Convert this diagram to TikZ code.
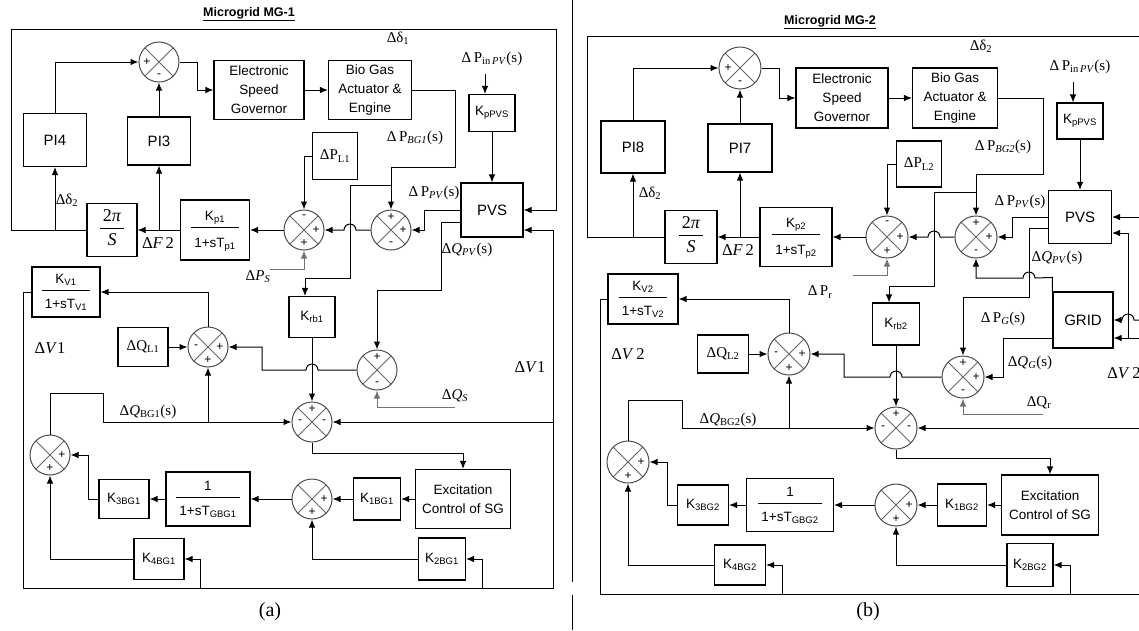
\documentclass[tikz,border=0pt]{standalone}
\usepackage{fontspec}
\setmainfont{Liberation Serif}
\setsansfont{Liberation Sans}
\usetikzlibrary{arrows.meta}
\setlength{\arrayrulewidth}{0.9pt}
\newcommand{\frc}[3][20pt]{\begin{tabular}{@{\hspace{3pt}}c@{\hspace{3pt}}}#2\\[1pt]\hline\rule{0pt}{#1}#3\end{tabular}}
\newcommand{\sg}[4]{\node[sgn] (#1#2) at ([shift={#3}]#1.center) {#4};}

\begin{document}
\begin{tikzpicture}[x=1pt,y=-1pt,line width=1pt,
  blk/.style={draw,line width=1.1pt,inner sep=0pt,align=center,font=\sffamily\fontsize{13.5}{19}\selectfont},
  bx/.style 2 args={blk,minimum width=#1,minimum height=#2},
  bigt/.style={font=\sffamily\fontsize{15}{17}\selectfont},
  sert/.style={font=\fontsize{15}{17}\selectfont},
  frt/.style={font=\fontsize{18}{18}\selectfont},
  sumc/.style={circle,draw=black!70,line width=1pt,minimum size=40pt,inner sep=0pt,
    path picture={\draw[black!60,line width=.9pt] (path picture bounding box.north west)--(path picture bounding box.south east)
      (path picture bounding box.north east)--(path picture bounding box.south west);}},
  sumd/.style={sumc,minimum size=42pt},
  sgn/.style={inner sep=0pt,font=\sffamily\fontsize{12}{12}\selectfont},
  arr/.style={-{Latex[length=8pt,width=6.5pt]}},
  gar/.style={arr,draw=black!55},
  lbl/.style={inner sep=0pt,font=\fontsize{15}{15}\selectfont},
  big/.style={inner sep=0pt,font=\fontsize{16.5}{16}\selectfont},
  ttl/.style={inner sep=0pt,font=\sffamily\bfseries\fontsize{12.5}{14}\selectfont}]
\useasboundingbox (0,0) rectangle (1139,630);

% MG-1
\node[ttl] (ttlA) at (249,14) {\underline{Microgrid MG-1}};
\node[sumc] (sa1) at (159,62) {};
\node[bx={63}{53},bigt] (pi4) at (55,140) {PI4};
\node[bx={63}{48},bigt] (pi3) at (159,141) {PI3};
\node[bx={90}{59}] (esgA) at (259,90) {Electronic\\Speed\\Governor};
\node[bx={83}{59}] (bgA) at (370,90) {Bio Gas\\Actuator \&\\Engine};
\node[bx={46}{37}] (kpvA) at (492,113) {K\textsubscript{pPVS}};
\node[bx={62}{54},bigt] (pvsA) at (492,210) {PVS};
\node[bx={45}{47},sert] (plA) at (335,156) {ΔP\textsubscript{L1}};
\node[sumc] (sa2) at (304,230) {};
\node[sumc] (sa3) at (391,230) {};
\node[bx={69}{60}] (kpA) at (215,230) {\frc{K\textsubscript{p1}}{1+sT\textsubscript{p1}}};
\node[bx={50}{53},frt] (tpA) at (112,230) {\frc[16pt]{2\textit{π}}{\textit{S}}};
\node[bx={46}{41}] (krbA) at (312,317) {K\textsubscript{rb1}};
\node[sumc] (sa5) at (377,370) {};
\node[sumc] (sa4) at (312,422) {};
\node[sumc] (sa6) at (208,347) {};
\node[bx={50}{39},sert] (qlA) at (143,347) {ΔQ\textsubscript{L1}};
\node[bx={68}{50}] (kvA) at (66,292) {\frc[18pt]{K\textsubscript{V1}}{1+sT\textsubscript{V1}}};
\node[sumc] (sa7) at (50,455) {};
\node[bx={50}{39}] (k3A) at (124,499) {K\textsubscript{3BG1}};
\node[bx={84}{54}] (gA) at (208,499) {\frc[17pt]{1}{1+sT\textsubscript{GBG1}}};
\node[sumc] (sa8) at (312,499) {};
\node[bx={47}{42}] (k1A) at (377,499) {K\textsubscript{1BG1}};
\node[bx={95}{59}] (excA) at (463,499) {Excitation\\Control of SG};
\node[bx={47}{42}] (k2A) at (442,559) {K\textsubscript{2BG1}};
\node[bx={50}{41}] (k4A) at (159,559) {K\textsubscript{4BG1}};

\sg{sa1}{w}{(-12,0)}{+} \sg{sa1}{s}{(0,14)}{-}
\sg{sa2}{n}{(0,-13)}{-} \sg{sa2}{e}{(12,0)}{+} \sg{sa2}{s}{(0,13)}{+}
\sg{sa3}{n}{(0,-13)}{+} \sg{sa3}{e}{(12,0)}{+} \sg{sa3}{s}{(0,14)}{-}
\sg{sa5}{n}{(0,-13)}{+} \sg{sa5}{s}{(0,14)}{-}
\sg{sa4}{n}{(0,-13)}{+} \sg{sa4}{w}{(-12,0)}{-} \sg{sa4}{e}{(12,0)}{-}
\sg{sa6}{w}{(-12,0)}{-} \sg{sa6}{e}{(12,0)}{+} \sg{sa6}{s}{(0,13)}{+}
\sg{sa7}{e}{(12,0)}{+} \sg{sa7}{s}{(0,13)}{+}
\sg{sa8}{e}{(12,0)}{+} \sg{sa8}{s}{(0,13)}{+}

\node[lbl] (dd1A) at (398,38) {Δδ\textsubscript{1}};
\node[lbl] (pinA) at (492,59) {Δ\,P\textsubscript{in\,\textit{PV}}(s)};
\node[lbl] (pbgA) at (415,138) {Δ\,P\textsubscript{\textit{BG1}}(s)};
\node[lbl] (ppvA) at (434,193) {Δ\,P\textsubscript{\textit{PV}}(s)};
\node[lbl] (dd2A) at (67,200) {Δδ\textsubscript{2}};
\node[big] (dfA) at (158,243) {Δ\textit{F}\,2};
\node[lbl] (psA) at (258,277) {Δ\textit{P}\textsubscript{\textit{S}}};
\node[lbl] (qpvA) at (467,250) {Δ\textit{Q}\textsubscript{\textit{PV}}(s)};
\node[lbl] (qsA) at (455,396) {Δ\textit{Q}\textsubscript{\textit{S}}};
\node[big] (dvA1) at (50,348) {Δ\textit{V}1};
\node[big] (dvA2) at (530,367) {Δ\textit{V}1};
\node[lbl] (qbgA) at (148,412) {Δ\textit{Q}\textsubscript{BG1}(s)};
\node[font=\fontsize{20}{20}\selectfont] (capA) at (270,612) {(a)};

\coordinate (oA1) at (11,29);
\coordinate (oA2) at (556,29);
\draw[arr] (tpA) -| (oA1) -- (oA2) |- (pvsA);
\draw[arr] (pi4 |- tpA) -- (pi4);
\draw[arr] (pi4) |- (sa1);
\draw[arr] (pi3) -- (sa1);
\draw[arr] (sa1) -- ++(38,0) |- (esgA);
\draw[arr] (esgA) -- (bgA);
\coordinate (bA) at (455,167);
\draw[arr] (bgA) -| (bA) -| (sa3);
\coordinate (rA) at (350,185);
\draw[arr] (sa3 |- rA) -- (rA) |- (305,278) -- ([xshift=-7pt]krbA.north);
\draw[arr] ([xshift=-7pt,yshift=-8pt]pinA.south) -- ([xshift=-7pt]kpvA.north);
\draw[arr] (kpvA) -- (pvsA);
\draw[arr] (plA) -| (sa2);
\draw[arr] (pvsA) -- ++(-68,0) |- (sa3);
\draw[arr] ([yshift=-12pt]pvsA.west) -| (441,290) -| (sa5);
\draw[arr] (sa3) -- (356,230) arc (0:-180:6) -- (sa2);
\draw[arr] (sa2) -- (kpA);
\draw[arr] (kpA) -- (tpA);
\draw[arr] (pi3 |- tpA) -- (pi3);
\coordinate (psA0) at (270,269);
\draw[gar] (psA0) -| (sa2);
\draw[arr] (krbA) -- (sa4);
\draw[arr] (sa5) -- (318,370) arc (0:-180:6) -- (262,370) |- (sa6);
\coordinate (qsA0) at (455,407);
\draw[gar] (qsA0) -| (sa5);
\draw[arr] (qlA) -- (sa6);
\draw[arr] (sa6) |- (kvA);
\coordinate (vA) at (553,588);
\draw[arr] (kvA) -| (23,588) -- (vA) -- (553,230) -- ([yshift=-20pt]pvsA.east);
\draw[arr] (vA |- sa4) -- (sa4);
\draw[arr] (482,588) |- (k2A);
\draw[arr] (200,588) |- (k4A);
\draw[arr] (k4A) -| (sa7);
\draw[arr] (k2A) -| (sa8);
\draw[arr] (k3A) -- ++(-36,0) |- (sa7);
\draw[arr] (gA) -- (k3A);
\draw[arr] (sa8) -- (gA);
\draw[arr] (k1A) -- (sa8);
\draw[arr] (excA) -- (k1A);
\draw[arr] (sa4) -- (312,453) -| (excA);
\draw[arr] (sa7) |- (103,393) |- (sa4);
\draw[arr] (sa6 |- sa4) -- (sa6);

\draw (572,0) -- (572,582) (572,595) -- (572,630);

% MG-2
\node[ttl] (ttlB) at (830,22) {\underline{Microgrid MG-2}};
\node[sumd] (sb1) at (740,68) {};
\node[bx={64}{52},bigt] (pi8) at (633,147) {PI8};
\node[bx={64}{48},bigt] (pi7) at (740,148) {PI7};
\node[bx={92}{60}] (esgB) at (842,98) {Electronic\\Speed\\Governor};
\node[bx={85}{60}] (bgB) at (955,98) {Bio Gas\\Actuator \&\\Engine};
\node[bx={46}{36}] (kpvB) at (1080,121) {K\textsubscript{pPVS}};
\node[bx={63}{53},bigt] (pvsB) at (1080,217) {PVS};
\node[bx={45}{46},sert] (plB) at (919,164) {ΔP\textsubscript{L2}};
\node[sumd] (sb2) at (887,237) {};
\node[sumd] (sb3) at (976,237) {};
\node[bx={72}{59}] (kpB) at (796,237) {\frc{K\textsubscript{p2}}{1+sT\textsubscript{p2}}};
\node[bx={52}{53},frt] (tpB) at (691,237) {\frc[16pt]{2\textit{π}}{\textit{S}}};
\node[bx={47}{42}] (krbB) at (896,324) {K\textsubscript{rb2}};
\node[bx={60}{56},bigt] (grid) at (1083,320) {GRID};
\node[sumd] (sb5) at (963,377) {};
\node[sumd] (sb4) at (896,428) {};
\node[sumd] (sb6) at (789,354) {};
\node[bx={51}{38},sert] (qlB) at (723,354) {ΔQ\textsubscript{L2}};
\node[bx={70}{50}] (kvB) at (643,299) {\frc[18pt]{K\textsubscript{V2}}{1+sT\textsubscript{V2}}};
\node[sumd] (sb7) at (628,462) {};
\node[bx={51}{40}] (k3B) at (703,505) {K\textsubscript{3BG2}};
\node[bx={87}{53}] (gB) at (790,505) {\frc[17pt]{1}{1+sT\textsubscript{GBG2}}};
\node[sumd] (sb8) at (896,505) {};
\node[bx={49}{42}] (k1B) at (962,505) {K\textsubscript{1BG2}};
\node[bx={97}{60}] (excB) at (1050,505) {Excitation\\Control of SG};
\node[bx={46}{43}] (k2B) at (1030,565) {K\textsubscript{2BG2}};
\node[bx={51}{40}] (k4B) at (740,565) {K\textsubscript{4BG2}};

\sg{sb1}{w}{(-12,0)}{+} \sg{sb1}{s}{(0,15)}{-}
\sg{sb2}{n}{(0,-14)}{-} \sg{sb2}{e}{(13,0)}{+} \sg{sb2}{s}{(0,14)}{+}
\sg{sb3}{n}{(0,-14)}{+} \sg{sb3}{e}{(13,0)}{+} \sg{sb3}{s}{(0,15)}{-}
\sg{sb5}{n}{(0,-14)}{+} \sg{sb5}{e}{(13,0)}{+} \sg{sb5}{s}{(0,15)}{-}
\sg{sb4}{n}{(0,-14)}{+} \sg{sb4}{w}{(-13,0)}{-} \sg{sb4}{e}{(13,0)}{-}
\sg{sb6}{w}{(-13,0)}{-} \sg{sb6}{e}{(13,0)}{+} \sg{sb6}{s}{(0,14)}{+}
\sg{sb7}{e}{(13,0)}{+} \sg{sb7}{s}{(0,14)}{+}
\sg{sb8}{e}{(13,0)}{+} \sg{sb8}{s}{(0,14)}{+}

\node[lbl] (dd1B) at (981,46) {Δδ\textsubscript{2}};
\node[lbl] (pinB) at (1080,67) {Δ\,P\textsubscript{in\,\textit{PV}}(s)};
\node[lbl] (pbgB) at (1003,147) {Δ\,P\textsubscript{\textit{BG2}}(s)};
\node[lbl] (ppvB) at (1020,202) {Δ\,P\textsubscript{\textit{PV}}(s)};
\node[lbl] (dd2B) at (650,193) {Δδ\textsubscript{2}};
\node[big] (dfB) at (738,250) {Δ\textit{F}\,2};
\node[lbl] (prB) at (820,292) {Δ\,P\textsubscript{r}};
\node[lbl] (qpvB) at (1057,258) {Δ\textit{Q}\textsubscript{\textit{PV}}(s)};
\node[lbl] (pgB) at (1003,319) {Δ\,P\textsubscript{\textit{G}}(s)};
\node[lbl] (qgB) at (1030,363) {Δ\textit{Q}\textsubscript{\textit{G}}(s)};
\node[lbl] (qrB) at (1039,403) {ΔQ\textsubscript{r}};
\node[big] (dvB1) at (628,354) {Δ\textit{V}\,2};
\node[big] (dvB2) at (1124,373) {Δ\textit{V}\,2};
\node[lbl] (qbgB) at (728,420) {Δ\textit{Q}\textsubscript{BG2}(s)};
\node[font=\fontsize{20}{20}\selectfont] (capB) at (868,612) {(b)};

\coordinate (oB1) at (587,36);
\coordinate (oB2) at (1139,36);
\draw (tpB) -| (oB1) -- (oB2);
\coordinate (eB1) at (1139,217);
\draw[arr] (eB1) -- (pvsB);
\draw[arr] (pi8 |- tpB) -- (pi8);
\draw[arr] (pi8) |- (sb1);
\draw[arr] (pi7) -- (sb1);
\draw[arr] (sb1) -- ++(39,0) |- (esgB);
\draw[arr] (esgB) -- (bgB);
\coordinate (bB) at (1043,174);
\draw[arr] (bgB) -| (bB) -| (sb3);
\coordinate (rB) at (934,192);
\draw[arr] (sb3 |- rB) -- (rB) |- (889,286) -- ([xshift=-7pt]krbB.north);
\draw[arr] ([xshift=-7pt,yshift=-8pt]pinB.south) -- ([xshift=-7pt]kpvB.north);
\draw[arr] (kpvB) -- (pvsB);
\draw[arr] (plB) -| (sb2);
\draw[arr] (pvsB) -- ++(-68,0) |- (sb3);
\draw[arr] ([yshift=-11pt]pvsB.west) -| (1029,297) -| (sb5);
\draw[arr] (sb3) -- (940,237) arc (0:-180:6) -- (sb2);
\draw[arr] (sb2) -- (kpB);
\draw[arr] (kpB) -- (tpB);
\draw[arr] (pi7 |- tpB) -- (pi7);
\coordinate (prB0) at (853,275);
\draw[gar] (prB0) -| (sb2);
\draw[arr] (grid.north west) -- ++(0,-14) -- (1035,278) arc (0:-180:6) -| (sb3);
\draw[arr] ([yshift=-18pt]grid.west) -| (1003,377) -- (sb5);
\coordinate (eB2) at (1139,320);
\draw[arr] (eB2) -- (1134,320) arc (0:-180:6) -- (grid);
\coordinate (eB3) at (1139,338);
\draw[arr] (eB3) -- ([yshift=-18pt]grid.east);
\draw[arr] (1128,338) -- (1128,233) -- ([yshift=-16pt]pvsB.east);
\coordinate (eB4) at (1139,428);
\draw[arr] (eB4) -- (sb4);
\draw[arr] (krbB) -- (sb4);
\draw[arr] (sb5) -- (902,377) arc (0:-180:6) -- (844,377) |- (sb6);
\coordinate (qrB0) at (1043,414);
\draw[gar] (qrB0) -| (sb5);
\draw[arr] (qlB) -- (sb6);
\draw[arr] (sb6) |- (kvB);
\coordinate (vB) at (1139,594);
\draw (kvB) -| (600,594) -- (vB);
\draw[arr] (782,594) |- (k4B);
\draw[arr] (1070,594) |- (k2B);
\draw[arr] (k4B) -| (sb7);
\draw[arr] (k2B) -| (sb8);
\draw[arr] (k3B) -- ++(-36,0) |- (sb7);
\draw[arr] (gB) -- (k3B);
\draw[arr] (sb8) -- (gB);
\draw[arr] (k1B) -- (sb8);
\draw[arr] (excB) -- (k1B);
\draw[arr] (sb4) -- (896,458) -| (excB);
\draw[arr] (sb7) |- (682,400) |- (sb4);
\draw[arr] (sb6 |- sb4) -- (sb6);
\end{tikzpicture}
\end{document}
